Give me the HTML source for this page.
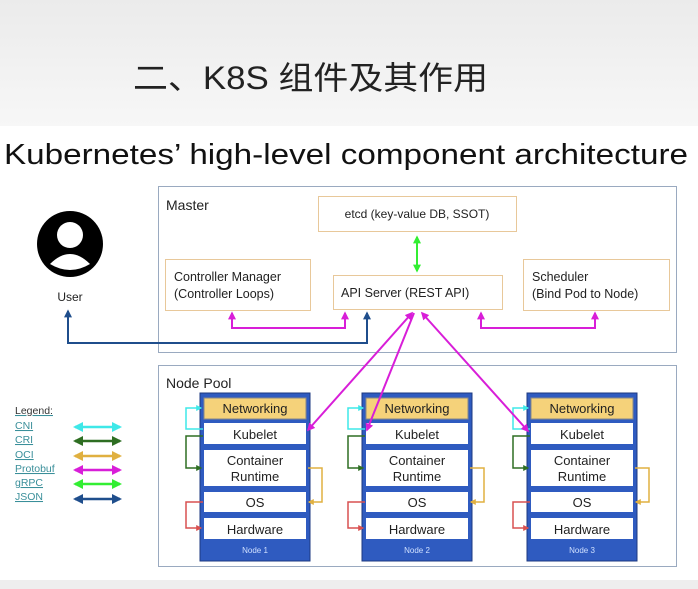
<!DOCTYPE html>
<html><head><meta charset="utf-8"><style>
html,body{margin:0;padding:0;width:698px;height:589px;overflow:hidden;background:#fff}
svg{display:block}
text{font-family:"Liberation Sans",Arial,sans-serif}
</style></head><body>
<svg width="698" height="589" viewBox="0 0 698 589" xmlns="http://www.w3.org/2000/svg">
<defs>
<linearGradient id="bg" x1="0" y1="0" x2="0" y2="1"><stop offset="0" stop-color="#ebebeb"/><stop offset="1" stop-color="#f7f7f7"/></linearGradient>
<marker id="mp" viewBox="0 0 10 10" refX="8" refY="5" markerWidth="4" markerHeight="4" orient="auto-start-reverse"><path d="M0,0L10,5L0,10z" fill="#d81ed8"/></marker>
<marker id="mg" viewBox="0 0 10 10" refX="8" refY="5" markerWidth="4" markerHeight="4" orient="auto-start-reverse"><path d="M0,0L10,5L0,10z" fill="#33ee33"/></marker>
<marker id="mb" viewBox="0 0 10 10" refX="8" refY="5" markerWidth="4" markerHeight="4" orient="auto-start-reverse"><path d="M0,0L10,5L0,10z" fill="#1f4e8c"/></marker>
<marker id="mc" viewBox="0 0 10 10" refX="8" refY="5" markerWidth="4" markerHeight="4" orient="auto-start-reverse"><path d="M0,0L10,5L0,10z" fill="#3ee8e8"/></marker>
<marker id="md" viewBox="0 0 10 10" refX="8" refY="5" markerWidth="4" markerHeight="4" orient="auto-start-reverse"><path d="M0,0L10,5L0,10z" fill="#2e6e22"/></marker>
<marker id="my" viewBox="0 0 10 10" refX="8" refY="5" markerWidth="4" markerHeight="4" orient="auto-start-reverse"><path d="M0,0L10,5L0,10z" fill="#e0b040"/></marker>
<marker id="mr" viewBox="0 0 10 10" refX="8" refY="5" markerWidth="4" markerHeight="4" orient="auto-start-reverse"><path d="M0,0L10,5L0,10z" fill="#d85050"/></marker>
</defs>
<rect x="0" y="0" width="698" height="126" fill="url(#bg)"/>
<rect x="0" y="580" width="698" height="9" fill="#eeeeee"/>
<text x="133" y="89" font-size="32" fill="#222" textLength="355" lengthAdjust="spacingAndGlyphs" style='font-family:"Liberation Sans","Noto Sans CJK SC",sans-serif'>二、K8S 组件及其作用</text>
<text x="4" y="164" font-size="29" fill="#111" textLength="684" lengthAdjust="spacingAndGlyphs">Kubernetes’ high-level component architecture</text>

<!-- Master -->
<rect x="158.5" y="186.5" width="518" height="166" fill="none" stroke="#9aaac0" stroke-width="1"/>
<text x="166" y="210" font-size="14" fill="#222">Master</text>
<rect x="318.5" y="196.5" width="198" height="35" fill="#fff" stroke="#e8c89a"/>
<text x="417" y="218" font-size="12" fill="#222" text-anchor="middle">etcd (key-value DB, SSOT)</text>
<rect x="165.5" y="259.5" width="145" height="51" fill="#fff" stroke="#e8c89a"/>
<text x="174" y="281" font-size="12.5" fill="#222">Controller Manager</text>
<text x="174" y="298" font-size="12.5" fill="#222">(Controller Loops)</text>
<rect x="333.5" y="275.5" width="169" height="34" fill="#fff" stroke="#e8c89a"/>
<text x="341" y="297" font-size="12.5" fill="#222">API Server (REST API)</text>
<rect x="523.5" y="259.5" width="146" height="51" fill="#fff" stroke="#e8c89a"/>
<text x="532" y="281" font-size="12.5" fill="#222">Scheduler</text>
<text x="532" y="298" font-size="12.5" fill="#222">(Bind Pod to Node)</text>
<line x1="417" y1="237" x2="417" y2="271" stroke="#33ee33" stroke-width="2" marker-start="url(#mg)" marker-end="url(#mg)"/>
<polyline points="232,313 232,328 345,328 345,313" fill="none" stroke="#d81ed8" stroke-width="2" marker-start="url(#mp)" marker-end="url(#mp)"/>
<polyline points="481,313 481,328 595,328 595,313" fill="none" stroke="#d81ed8" stroke-width="2" marker-start="url(#mp)" marker-end="url(#mp)"/>
<polyline points="367,313 367,343 68,343 68,311" fill="none" stroke="#1f4e8c" stroke-width="2" marker-start="url(#mb)" marker-end="url(#mb)"/>

<!-- user -->
<circle cx="70" cy="244" r="33" fill="#000"/>
<circle cx="70" cy="235" r="13" fill="#fff"/>
<path d="M50,264 Q70,244 90,264 Q70,276 50,264z" fill="#fff"/>
<text x="70" y="301" font-size="12" fill="#222" text-anchor="middle">User</text>

<!-- Node pool -->
<rect x="158.5" y="365.5" width="518" height="201" fill="none" stroke="#9aaac0"/>
<text x="166" y="388" font-size="14" fill="#222">Node Pool</text>

<g>
<rect x="200" y="393" width="110" height="168" fill="#2f5bc0" stroke="#1e3a80"/>
<rect x="204" y="398" width="102" height="21" fill="#f5d27a" stroke="#888"/>
<text x="255" y="413" font-size="13" fill="#222" text-anchor="middle">Networking</text>
<rect x="204" y="423" width="102" height="21" fill="#fff"/>
<text x="255" y="439" font-size="13" fill="#222" text-anchor="middle">Kubelet</text>
<rect x="204" y="450" width="102" height="36" fill="#fff"/>
<text x="255" y="465" font-size="13" fill="#222" text-anchor="middle">Container</text>
<text x="255" y="481" font-size="13" fill="#222" text-anchor="middle">Runtime</text>
<rect x="204" y="492" width="102" height="20" fill="#fff"/>
<text x="255" y="507" font-size="13" fill="#222" text-anchor="middle">OS</text>
<rect x="204" y="518" width="102" height="21" fill="#fff"/>
<text x="255" y="534" font-size="13" fill="#222" text-anchor="middle">Hardware</text>
<text x="255" y="553" font-size="8" fill="#cfe0ff" text-anchor="middle">Node 1</text>
<polyline points="203,429 186,429 186,408 201,408" fill="none" stroke="#3ee8e8" stroke-width="1.5" marker-end="url(#mc)"/>
<polyline points="203,436 186,436 186,468 201,468" fill="none" stroke="#2e6e22" stroke-width="1.5" marker-end="url(#md)"/>
<polyline points="203,502 186,502 186,528 201,528" fill="none" stroke="#d85050" stroke-width="1.5" marker-end="url(#mr)"/>
<polyline points="308,468 322,468 322,502 309,502" fill="none" stroke="#e0b040" stroke-width="1.5" marker-end="url(#my)"/>
</g>
<g transform="translate(162,0)">
<rect x="200" y="393" width="110" height="168" fill="#2f5bc0" stroke="#1e3a80"/>
<rect x="204" y="398" width="102" height="21" fill="#f5d27a" stroke="#888"/>
<text x="255" y="413" font-size="13" fill="#222" text-anchor="middle">Networking</text>
<rect x="204" y="423" width="102" height="21" fill="#fff"/>
<text x="255" y="439" font-size="13" fill="#222" text-anchor="middle">Kubelet</text>
<rect x="204" y="450" width="102" height="36" fill="#fff"/>
<text x="255" y="465" font-size="13" fill="#222" text-anchor="middle">Container</text>
<text x="255" y="481" font-size="13" fill="#222" text-anchor="middle">Runtime</text>
<rect x="204" y="492" width="102" height="20" fill="#fff"/>
<text x="255" y="507" font-size="13" fill="#222" text-anchor="middle">OS</text>
<rect x="204" y="518" width="102" height="21" fill="#fff"/>
<text x="255" y="534" font-size="13" fill="#222" text-anchor="middle">Hardware</text>
<text x="255" y="553" font-size="8" fill="#cfe0ff" text-anchor="middle">Node 2</text>
<polyline points="203,429 186,429 186,408 201,408" fill="none" stroke="#3ee8e8" stroke-width="1.5" marker-end="url(#mc)"/>
<polyline points="203,436 186,436 186,468 201,468" fill="none" stroke="#2e6e22" stroke-width="1.5" marker-end="url(#md)"/>
<polyline points="203,502 186,502 186,528 201,528" fill="none" stroke="#d85050" stroke-width="1.5" marker-end="url(#mr)"/>
<polyline points="308,468 322,468 322,502 309,502" fill="none" stroke="#e0b040" stroke-width="1.5" marker-end="url(#my)"/>
</g>
<g transform="translate(327,0)">
<rect x="200" y="393" width="110" height="168" fill="#2f5bc0" stroke="#1e3a80"/>
<rect x="204" y="398" width="102" height="21" fill="#f5d27a" stroke="#888"/>
<text x="255" y="413" font-size="13" fill="#222" text-anchor="middle">Networking</text>
<rect x="204" y="423" width="102" height="21" fill="#fff"/>
<text x="255" y="439" font-size="13" fill="#222" text-anchor="middle">Kubelet</text>
<rect x="204" y="450" width="102" height="36" fill="#fff"/>
<text x="255" y="465" font-size="13" fill="#222" text-anchor="middle">Container</text>
<text x="255" y="481" font-size="13" fill="#222" text-anchor="middle">Runtime</text>
<rect x="204" y="492" width="102" height="20" fill="#fff"/>
<text x="255" y="507" font-size="13" fill="#222" text-anchor="middle">OS</text>
<rect x="204" y="518" width="102" height="21" fill="#fff"/>
<text x="255" y="534" font-size="13" fill="#222" text-anchor="middle">Hardware</text>
<text x="255" y="553" font-size="8" fill="#cfe0ff" text-anchor="middle">Node 3</text>
<polyline points="203,429 186,429 186,408 201,408" fill="none" stroke="#3ee8e8" stroke-width="1.5" marker-end="url(#mc)"/>
<polyline points="203,436 186,436 186,468 201,468" fill="none" stroke="#2e6e22" stroke-width="1.5" marker-end="url(#md)"/>
<polyline points="203,502 186,502 186,528 201,528" fill="none" stroke="#d85050" stroke-width="1.5" marker-end="url(#mr)"/>
<polyline points="308,468 322,468 322,502 309,502" fill="none" stroke="#e0b040" stroke-width="1.5" marker-end="url(#my)"/>
</g>

<!-- API to kubelets -->
<line x1="412" y1="313" x2="308" y2="430" stroke="#d81ed8" stroke-width="2" marker-start="url(#mp)" marker-end="url(#mp)"/>
<line x1="414" y1="313" x2="367" y2="430" stroke="#d81ed8" stroke-width="2" marker-end="url(#mp)"/>
<line x1="422" y1="313" x2="528" y2="431" stroke="#d81ed8" stroke-width="2" marker-start="url(#mp)" marker-end="url(#mp)"/>

<!-- legend -->
<g font-size="10.5" fill="#3a8f9a" text-decoration="underline">
<text x="15" y="414" fill="#333" text-decoration="none">Legend:</text>
<text x="15" y="429">CNI</text>
<text x="15" y="443">CRI</text>
<text x="15" y="458">OCI</text>
<text x="15" y="472">Protobuf</text>
<text x="15" y="486">gRPC</text>
<text x="15" y="500">JSON</text>
</g>
<line x1="75" y1="427" x2="120" y2="427" stroke="#3ee8e8" stroke-width="2.5" marker-start="url(#mc)" marker-end="url(#mc)"/>
<line x1="75" y1="441" x2="120" y2="441" stroke="#2e6e22" stroke-width="2.5" marker-start="url(#md)" marker-end="url(#md)"/>
<line x1="75" y1="456" x2="120" y2="456" stroke="#e0b040" stroke-width="2.5" marker-start="url(#my)" marker-end="url(#my)"/>
<line x1="75" y1="470" x2="120" y2="470" stroke="#d81ed8" stroke-width="2.5" marker-start="url(#mp)" marker-end="url(#mp)"/>
<line x1="75" y1="484" x2="120" y2="484" stroke="#33ee33" stroke-width="2.5" marker-start="url(#mg)" marker-end="url(#mg)"/>
<line x1="75" y1="499" x2="120" y2="499" stroke="#1f4e8c" stroke-width="2.5" marker-start="url(#mb)" marker-end="url(#mb)"/>
</svg>
</body></html>
